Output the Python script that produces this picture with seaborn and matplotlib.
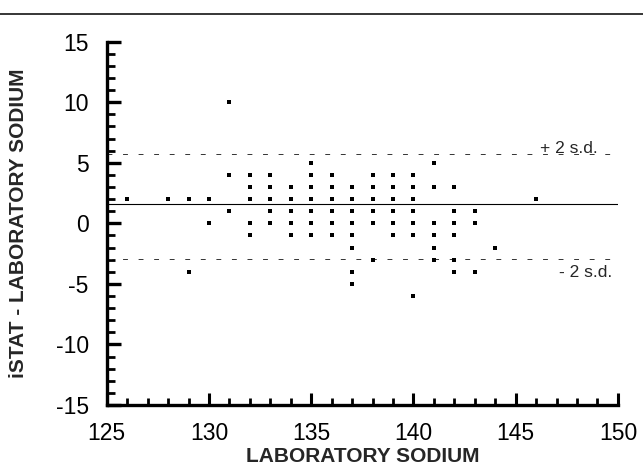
import matplotlib
matplotlib.use('Agg')
import matplotlib.pyplot as plt
import seaborn as sns
from matplotlib.ticker import MultipleLocator
from matplotlib.lines import Line2D

# iSTAT vs laboratory sodium (Bland-Altman style difference plot)
lab_sodium = [126,
              128,
              129, 129,
              130, 130,
              131, 131, 131,
              132, 132, 132, 132, 132,
              133, 133, 133, 133, 133,
              134, 134, 134, 134, 134,
              135, 135, 135, 135, 135, 135, 135,
              136, 136, 136, 136, 136, 136,
              137, 137, 137, 137, 137, 137, 137, 137,
              138, 138, 138, 138, 138, 138,
              139, 139, 139, 139, 139, 139,
              140, 140, 140, 140, 140, 140, 140,
              141, 141, 141, 141, 141, 141,
              142, 142, 142, 142, 142, 142,
              143, 143, 143,
              144,
              146]
istat_minus_lab = [2,
                   2,
                   2, -4,
                   2, 0,
                   10, 4, 1,
                   4, 3, 2, 0, -1,
                   4, 3, 2, 1, 0,
                   3, 2, 1, 0, -1,
                   5, 4, 3, 2, 1, 0, -1,
                   4, 3, 2, 1, 0, -1,
                   3, 2, 1, 0, -1, -2, -4, -5,
                   4, 3, 2, 1, 0, -3,
                   4, 3, 2, 1, 0, -1,
                   4, 3, 2, 1, 0, -1, -6,
                   5, 3, 0, -1, -2, -3,
                   3, 1, 0, -1, -3, -4,
                   1, 0, -4,
                   -2,
                   2]

mean_diff = 1.56
upper_sd = 5.74
lower_sd = -2.92

sns.set_style('ticks')
plt.rcParams['font.family'] = ['Liberation Sans', 'DejaVu Sans']
plt.rcParams['axes.unicode_minus'] = False

fig = plt.figure(figsize=(6.43, 4.66), dpi=100)
ax = fig.add_axes([0.166, 0.131, 0.795, 0.7795])

sns.scatterplot(x=lab_sodium, y=istat_minus_lab, ax=ax, marker='s', s=10,
                color='black', linewidth=0, zorder=3)

ax.axhline(mean_diff, color='black', linewidth=0.8)
ax.axhline(upper_sd, color='#333333', linewidth=0.7, linestyle=(0, (5, 11)))
ax.axhline(lower_sd, color='#333333', linewidth=0.7, linestyle=(0, (5, 11)))

ax.text(146.2, upper_sd + 0.05, '+ 2 s.d.', fontsize=12.5, ha='left', va='baseline')
ax.text(147.1, lower_sd - 1.55, '- 2 s.d.', fontsize=12.5, ha='left', va='baseline')

ax.set_xlim(125, 150)
ax.set_ylim(-15, 15)
ax.set_xticks(range(125, 151, 5))
ax.set_yticks(range(-15, 16, 5))
ax.xaxis.set_minor_locator(MultipleLocator(1))
ax.yaxis.set_minor_locator(MultipleLocator(1))

ax.tick_params(axis='both', which='both', direction='in', colors='black', labelsize=16.5)
ax.tick_params(axis='y', which='major', length=10, width=2.4, pad=13)
ax.tick_params(axis='y', which='minor', length=5.5, width=2.0)
ax.tick_params(axis='x', which='major', length=9, width=2.2, pad=12)
ax.tick_params(axis='x', which='minor', length=5, width=2.0)

sns.despine(ax=ax)
for side in ['left', 'bottom']:
    ax.spines[side].set_linewidth(2.4)
    ax.spines[side].set_color('black')

ax.set_xlabel('LABORATORY SODIUM', fontsize=15, fontweight='bold')
ax.set_ylabel('iSTAT - LABORATORY SODIUM', fontsize=15, fontweight='bold')
ax.xaxis.set_label_coords(0.5, -0.117)
ax.yaxis.set_label_coords(-0.155, 0.5)

# thin rule across the top of the figure
fig.add_artist(Line2D([0.0, 1.0], [0.97, 0.97], transform=fig.transFigure,
                      color='black', linewidth=1.1))

fig.savefig('out.png', dpi=100)
